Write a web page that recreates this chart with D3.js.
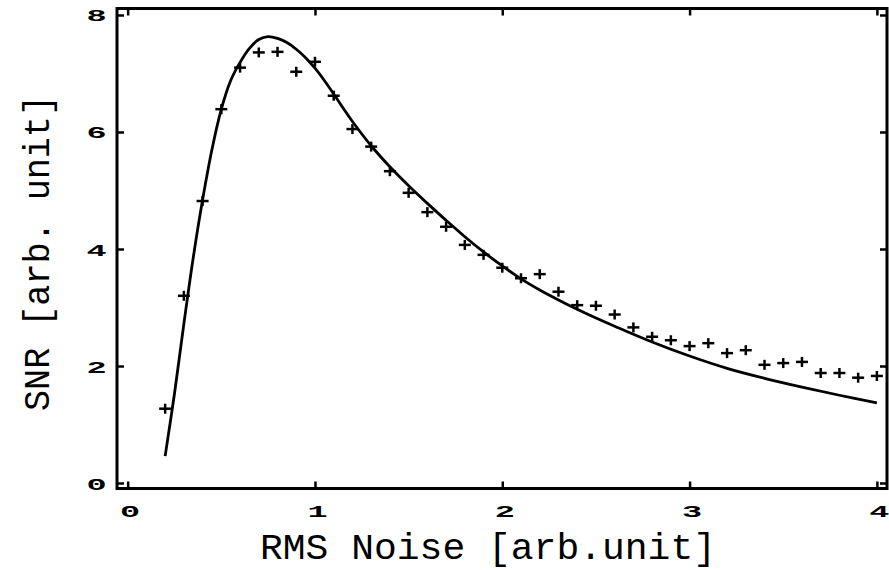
<!DOCTYPE html>
<html>
<head>
<meta charset="utf-8">
<script src="https://cdn.jsdelivr.net/npm/d3@7"></script>
<style>
  body { margin: 0; background: #fff; }
  svg { display: block; }
  .tick text { font-family: "Liberation Mono", monospace; font-weight: bold; font-size: 16px; }
  .title { font-family: "Liberation Mono", "Courier New", monospace; font-size: 37px; }
</style>
</head>
<body>
<div id="chart"></div>
<script>
// measured points (crosses)
var noiseX = [0.2, 0.3, 0.4, 0.5, 0.6, 0.7, 0.8, 0.9, 1.0, 1.1, 1.2, 1.3, 1.4, 1.5, 1.6, 1.7, 1.8, 1.9, 2.0,
  2.1, 2.2, 2.3, 2.4, 2.5, 2.6, 2.7, 2.8, 2.9, 3.0, 3.1, 3.2, 3.3, 3.4, 3.5, 3.6, 3.7, 3.8, 3.9, 4.0];
var snrMeasured = [1.27, 3.2, 4.82, 6.39, 7.1, 7.36, 7.37, 7.03, 7.2, 6.62, 6.05, 5.75, 5.33, 4.96, 4.63, 4.38, 4.07, 3.9, 3.68,
  3.5, 3.57, 3.27, 3.04, 3.03, 2.88, 2.66, 2.5, 2.44, 2.34, 2.39, 2.22, 2.27, 2.02, 2.05, 2.07, 1.88, 1.88, 1.8, 1.83];

// fitted curve
var fitX = [0.2, 0.25, 0.3, 0.35, 0.4, 0.45, 0.5, 0.55, 0.6, 0.65, 0.7, 0.75, 0.8, 0.85, 0.9, 0.95,
  1.0, 1.05, 1.1, 1.15, 1.2, 1.3, 1.4, 1.5, 1.6, 1.7, 1.8, 1.9, 2.0, 2.1, 2.2, 2.3, 2.4, 2.5, 2.6,
  2.8, 3.0, 3.2, 3.4, 3.6, 3.8, 4.0];
var fitY = [0.46, 1.53, 2.72, 3.85, 4.84, 5.7, 6.39, 6.88, 7.19, 7.43, 7.58, 7.63, 7.6, 7.53, 7.415, 7.27,
  7.09, 6.88, 6.65, 6.41, 6.18, 5.765, 5.405, 5.08, 4.78, 4.49, 4.21, 3.95, 3.71, 3.49, 3.3, 3.13, 2.97, 2.82, 2.68,
  2.41, 2.17, 1.96, 1.79, 1.64, 1.5, 1.37];

// tick values
var xTicks = [0, 1, 2, 3, 4];
var yTicks = [0, 2, 4, 6, 8];

function chart() {

var w = 889, h = 570;
var pLeft = 117, pRight = 887, pTop = 8.5, pBottom = 488.5;

var x = d3.scaleLinear().domain([-0.057, 4.054]).range([pLeft, pRight]);
var y = d3.scaleLinear().domain([-0.094, 8.111]).range([pBottom, pTop]);

var svg = d3.select("#chart").append("svg")
  .attr("width", w)
  .attr("height", h);

// ticks on all four sides, pointing inwards
var tk = 7;
var fmt = d3.format("d");
svg.append("g")
  .attr("transform", "translate(0," + pBottom + ")")
  .call(d3.axisBottom(x).tickValues(xTicks).tickFormat(fmt).tickSizeInner(-tk).tickSizeOuter(0).tickPadding(0))
  .call(function(g) {
    g.select(".domain").remove();
    g.selectAll(".tick text")
      .attr("y", 29).attr("dy", null)
      .attr("transform", "translate(2,0) scale(2.1,1)");
  });
svg.append("g")
  .attr("transform", "translate(0," + pTop + ")")
  .call(d3.axisTop(x).tickValues(xTicks).tickSizeInner(-tk).tickSizeOuter(0).tickFormat(""))
  .call(function(g) { g.select(".domain").remove(); });
svg.append("g")
  .attr("transform", "translate(" + pLeft + ",0)")
  .call(d3.axisLeft(y).tickValues(yTicks).tickFormat(fmt).tickSizeInner(-tk).tickSizeOuter(0))
  .call(function(g) {
    g.select(".domain").remove();
    g.selectAll(".tick text")
      .attr("x", 0).attr("dy", null).attr("y", 6)
      .attr("text-anchor", "middle")
      .attr("transform", "translate(-20.5,0) scale(2.1,1)");
  });
svg.append("g")
  .attr("transform", "translate(" + pRight + ",0)")
  .call(d3.axisRight(y).tickValues(yTicks).tickSizeInner(-tk).tickSizeOuter(0).tickFormat(""))
  .call(function(g) { g.select(".domain").remove(); });

svg.selectAll(".tick line")
  .attr("stroke", "#000")
  .attr("stroke-width", 2.5);

// frame
svg.append("rect")
  .attr("x", pLeft).attr("y", pTop)
  .attr("width", pRight - pLeft).attr("height", pBottom - pTop)
  .attr("fill", "none")
  .attr("stroke", "#000")
  .attr("stroke-width", 3);

// fitted curve
var line = d3.line()
  .x(function(d) { return x(d[0]); })
  .y(function(d) { return y(d[1]); })
  .curve(d3.curveCatmullRom);

svg.append("path")
  .datum(d3.zip(fitX, fitY))
  .attr("d", line)
  .attr("fill", "none")
  .attr("stroke", "#000")
  .attr("stroke-width", 2.8);

// crosses
var pts = svg.append("g").selectAll("g")
  .data(d3.zip(noiseX, snrMeasured))
  .join("g")
  .attr("transform", function(d) { return "translate(" + x(d[0]) + "," + y(d[1]) + ")"; });
pts.append("line").attr("x1", -6).attr("x2", 6).attr("y1", 0).attr("y2", 0);
pts.append("line").attr("x1", 0).attr("x2", 0).attr("y1", -5).attr("y2", 5);
pts.selectAll("line").attr("stroke", "#000").attr("stroke-width", 2.5);

// axis titles
svg.append("text")
  .attr("class", "title")
  .attr("x", 260).attr("y", 559)
  .attr("textLength", 456)
  .attr("lengthAdjust", "spacingAndGlyphs")
  .text("RMS Noise [arb.unit]");

svg.append("text")
  .attr("class", "title")
  .attr("transform", "translate(49,411) rotate(-90)")
  .attr("x", 0).attr("y", 0)
  .attr("textLength", 316)
  .attr("lengthAdjust", "spacingAndGlyphs")
  .text("SNR [arb. unit]");
}

chart();
</script>
</body>
</html>
